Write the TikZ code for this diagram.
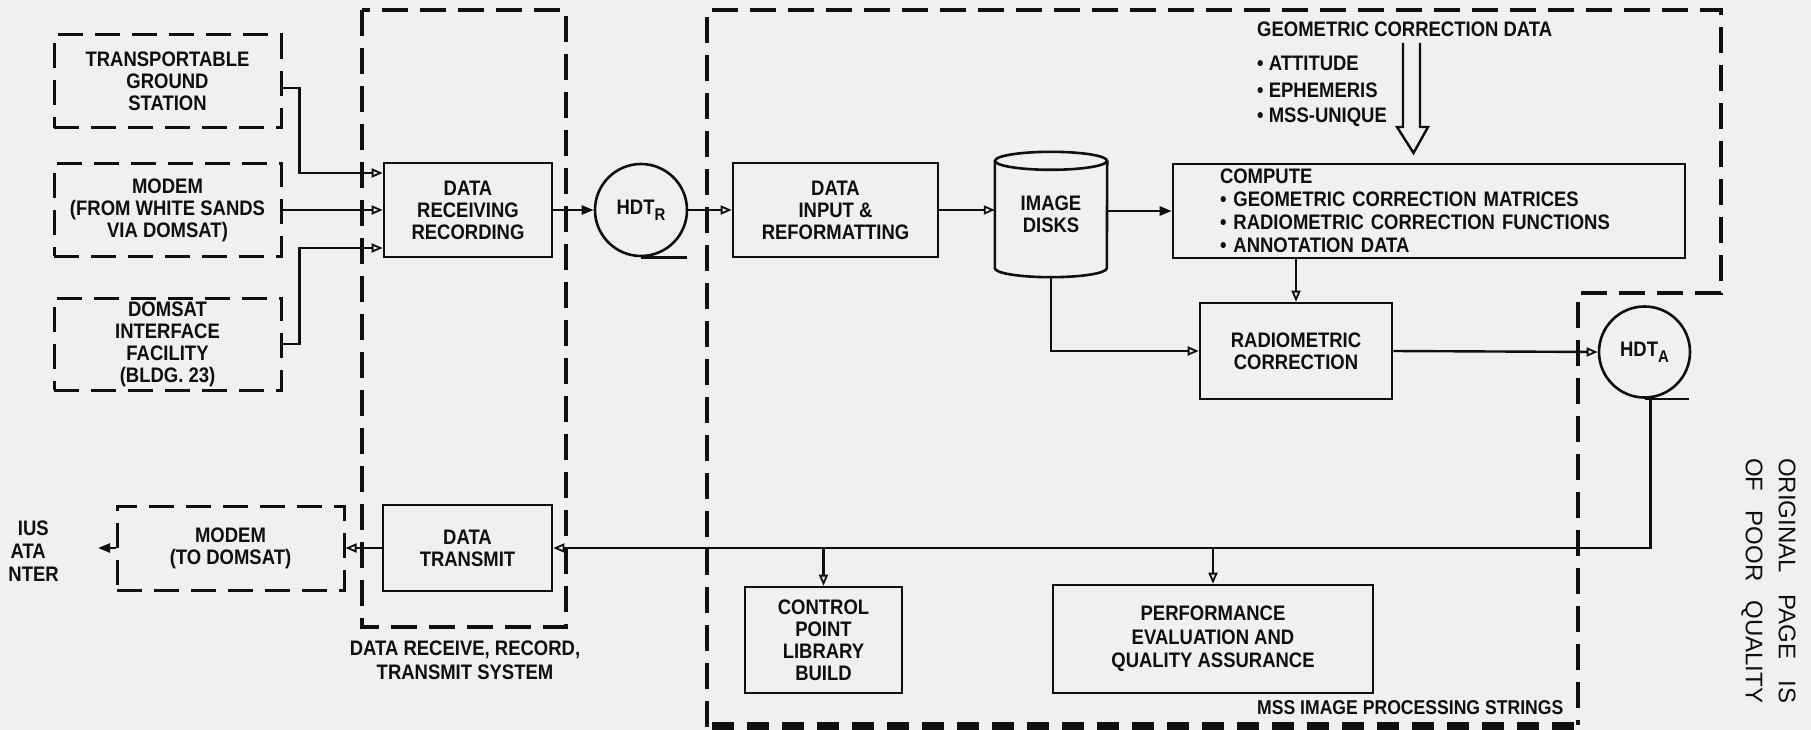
\documentclass[tikz,border=0pt]{standalone}
\usepackage{fontspec}
\setmainfont{Liberation Sans}[FakeStretch=0.88]
\newfontfamily\plainfont{Liberation Sans}
\usetikzlibrary{arrows.meta}
\definecolor{paper}{RGB}{240,240,238}
\definecolor{ink}{RGB}{15,15,15}
\newcommand\lbfont{\fontsize{21}{22}\selectfont\bfseries}
\newcommand\subR[1]{\raisebox{-6pt}{\fontsize{17}{17}\selectfont #1}}
\begin{document}
\begin{tikzpicture}[x=1pt,y=-1pt,
  lbl/.style={font=\lbfont, align=center, inner sep=0pt, text=ink},
  sbox/.style={lbl, draw=ink, line width=2.6pt},
  dbox/.style={lbl, draw=ink, line width=3pt, dash pattern=on 25pt off 12pt},
  grp/.style={draw=ink, line width=3.4pt, dash pattern=on 26pt off 12pt},
  wire/.style={draw=ink, line width=2.4pt},
  arr/.style={wire, -{Triangle[open, length=11pt, width=9pt, line width=1.8pt]}},
  farr/.style={wire, -{Triangle[length=12pt, width=9pt]}}]
\fill[paper] (0,0) rectangle (1811,730);
\useasboundingbox (0,0) rectangle (1811,730);

% group outlines
\draw[grp] (362,10) rectangle (566,627);
\draw[grp] (707,727) -- (707,10) -- (1721,10) -- (1721,293) -- (1578,293) -- (1578,725);
\draw[ink, line width=9pt, dash pattern=on 22pt off 13pt] (712,726) -- (1578,726);

% source boxes
\node[dbox, minimum width=227pt, minimum height=93pt] (src1) at (167.5,81.5) {TRANSPORTABLE\\GROUND\\STATION};
\node[dbox, minimum width=227pt, minimum height=92pt] (src2) at (167.5,210) {MODEM\\(FROM WHITE SANDS\\VIA DOMSAT)};
\node[dbox, minimum width=227pt, minimum height=92pt] (src3) at (167.5,344) {DOMSAT\\INTERFACE\\FACILITY\\(BLDG. 23)};

% main chain
\node[sbox, minimum width=168pt, minimum height=94pt] (recv) at (468,210) {DATA\\RECEIVING\\RECORDING};
\node[sbox, circle, minimum size=92pt] (hdtr) at (641,210) {HDT\subR{R}};
\node[sbox, minimum width=205pt, minimum height=94pt] (input) at (835.5,210) {DATA\\INPUT \&\\REFORMATTING};
\node[lbl, minimum width=112pt, minimum height=125pt] (disks) at (1051,214.5) {IMAGE\\DISKS};
\draw[ink, line width=2.6pt] ([yshift=-9pt]disks.north) ellipse [x radius=56pt, y radius=9pt];
\draw[ink, line width=2.6pt] ([yshift=-9pt]disks.north west) -- ([yshift=9pt]disks.south west)
   arc[start angle=180, end angle=360, x radius=56pt, y radius=9pt] -- ([yshift=-9pt]disks.north east);
\node[sbox, minimum width=512pt, minimum height=94pt, text width=418pt, align=left,
      font=\fontsize{21}{23}\selectfont\bfseries] (compute) at (1429,211)
  {COMPUTE\\\textbullet\ GEOMETRIC CORRECTION MATRICES\\\textbullet\ RADIOMETRIC CORRECTION FUNCTIONS\\\textbullet\ ANNOTATION DATA};
\node[sbox, minimum width=192pt, minimum height=96pt] (rad) at (1296,351) {RADIOMETRIC\\CORRECTION};
\node[sbox, circle, minimum size=91pt] (hdta) at (1644.5,352) {HDT\subR{A}};

% bottom row
\node[sbox, minimum width=157pt, minimum height=106pt] (cpl) at (823.5,640) {CONTROL\\POINT\\LIBRARY\\BUILD};
\node[sbox, minimum width=320pt, minimum height=108pt, font=\fontsize{21}{23.5}\selectfont\bfseries] (perf) at (1213,639) {PERFORMANCE\\EVALUATION AND\\QUALITY ASSURANCE};
\node[sbox, minimum width=169pt, minimum height=86pt] (xmit) at (467.5,548) {DATA\\TRANSMIT};
\node[dbox, minimum width=227pt, minimum height=84pt] (modem2) at (230.5,548) {MODEM\\(TO DOMSAT)};
\coordinate (out) at (98,548);
\node[lbl, anchor=east] (c1) at (49,528) {IUS};
\node[lbl, anchor=east] (c2) at (46,551) {ATA};
\node[lbl, anchor=east] (c3) at (59,574) {NTER};

% geometric correction data
\node[lbl, anchor=west] (gcd) at (1257,29) {GEOMETRIC CORRECTION DATA};
\node[lbl, anchor=west] (g1) at (1257,63) {\textbullet\ ATTITUDE};
\node[lbl, anchor=west] (g2) at (1257,90) {\textbullet\ EPHEMERIS};
\node[lbl, anchor=west] (g3) at (1257,117) {\textbullet\ MSS-UNIQUE};
\draw[wire, line join=miter] (1403,43) -- (1403,127) -- (1397,127) -- (1413.5,153) -- (1428,127) -- (1420,127) -- (1420,43);

% labels
\node[lbl, font=\fontsize{21}{24}\selectfont\bfseries] (cap) at (465,660) {DATA RECEIVE, RECORD,\\TRANSMIT SYSTEM};
\node[lbl, anchor=west, font=\fontsize{20}{20}\selectfont\bfseries] (mss) at (1257,708) {MSS IMAGE PROCESSING STRINGS};
\node[rotate=-90, anchor=west, inner sep=0pt, text=ink, font=\plainfont\fontsize{24}{24}\selectfont] (orig1) at (1787,458) {\makebox[245pt][s]{ORIGINAL PAGE IS}};
\node[rotate=-90, anchor=west, inner sep=0pt, text=ink, font=\plainfont\fontsize{24}{24}\selectfont] (orig2) at (1752,458) {\makebox[245pt][s]{OF POOR QUALITY}};

% connectors
\draw[arr] ([yshift=-6.5pt]src1.east) -- ++(17,0) |- ([yshift=37pt]recv.west);
\draw[arr] (src2.east) -- (recv.west);
\draw[arr] (src3.east) -- ++(17,0) |- ([yshift=-38pt]recv.west);
\draw[farr] (recv.east) -- (hdtr.west);
\draw[wire] (hdtr.south) -- ++(46,0);
\draw[arr] (hdtr.east) -- (input.west);
\draw[arr] (input.east) -- (input.east -| disks.west);
\draw[farr] (disks.east |- compute.west) -- (compute.west);
\draw[arr] (disks.south) |- (rad.west);
\draw[arr] (compute.south -| rad.north) -- (rad.north);
\draw[arr] (rad.east) -- (hdta.west);
\draw[wire] (hdta.south) -- ++(44,0);
\draw[arr] ([xshift=6pt]hdta.south) |- (xmit.east);
\draw[arr] (cpl.north |- xmit.east) -- (cpl.north);
\draw[arr] (perf.north |- xmit.east) -- (perf.north);
\draw[arr] (xmit.west) -- (modem2.east);
\draw[farr] (modem2.west) -- (out);
\end{tikzpicture}
\end{document}
